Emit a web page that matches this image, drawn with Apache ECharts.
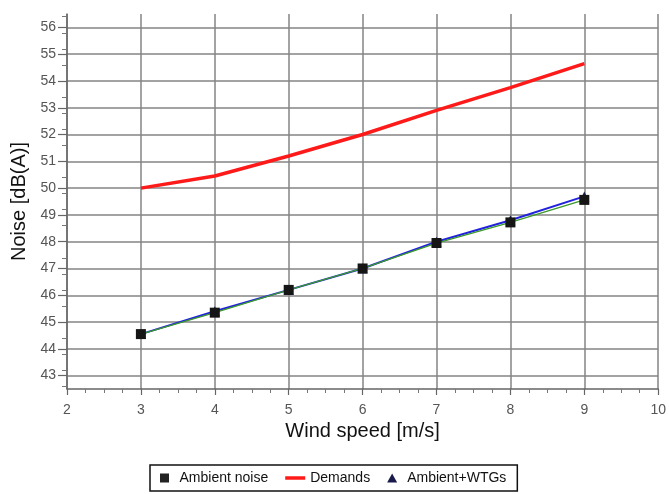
<!DOCTYPE html>
<html>
<head>
<meta charset="utf-8">
<script src="https://cdn.jsdelivr.net/npm/echarts@6/dist/echarts.min.js"></script>
<style>
html,body{margin:0;padding:0;background:#fff;}
#c{width:669px;height:494px;}
</style>
</head>
<body>
<div id="c"></div>
<script>
var windSpeed = [3, 4, 5, 6, 7, 8, 9];
var ambientNoise = [44.55, 45.35, 46.2, 47.0, 47.95, 48.72, 49.56];
var demands = [50.0, 50.45, 51.2, 52.0, 52.9, 53.75, 54.65];
var ambientWTGs = [44.55, 45.4, 46.2, 47.0, 48.0, 48.8, 49.69];
var yTicks = [43, 44, 45, 46, 47, 48, 49, 50, 51, 52, 53, 54, 55, 56];
var xTicks = [2, 3, 4, 5, 6, 7, 8, 9, 10];

function pairs(xs, ys) { return xs.map(function (x, i) { return [x, ys[i]]; }); }

var FONT = '"Liberation Sans", Arial, sans-serif';
var chart = echarts.init(document.getElementById('c'), null, {renderer: 'canvas'});
chart.setOption({
  animation: false,
  backgroundColor: '#fff',
  textStyle: {fontFamily: FONT},
  grid: {left: 67, right: 6, top: 14, bottom: 105},
  xAxis: {
    type: 'value', min: xTicks[0], max: xTicks[xTicks.length - 1], interval: 1,
    name: 'Wind speed [m/s]', nameLocation: 'middle', nameGap: 32,
    nameTextStyle: {fontSize: 20, color: '#111', fontFamily: FONT},
    axisLine: {show: true, lineStyle: {color: '#666', width: 1.5}},
    axisTick: {show: true, length: 6, lineStyle: {color: '#666', width: 1.2}},
    minorTick: {show: true, splitNumber: 4, length: 4, lineStyle: {color: '#777', width: 1}},
    axisLabel: {fontSize: 14, color: '#555', margin: 14, fontFamily: FONT},
    splitLine: {show: true, lineStyle: {color: '#858585', width: 1.5}}
  },
  yAxis: {
    type: 'value', min: 42.5, max: 56.5,
    name: 'Noise [dB(A)]', nameLocation: 'middle', nameGap: 38,
    nameTextStyle: {fontSize: 20, color: '#111', fontFamily: FONT},
    axisLine: {show: true, lineStyle: {color: '#666', width: 1.5}},
    axisTick: {show: true, length: 9, customValues: yTicks, lineStyle: {color: '#666', width: 1.2}},
    minorTick: {show: true, splitNumber: 5, length: 5, lineStyle: {color: '#777', width: 1}},
    axisLabel: {fontSize: 14, color: '#555', margin: 11, customValues: yTicks, fontFamily: FONT},
    splitLine: {show: true, lineStyle: {color: '#858585', width: 1.5}}
  },
  legend: {
    left: 150, top: 465, padding: [6, 11, 6, 10],
    borderColor: '#111', borderWidth: 1.5, borderRadius: 0,
    itemGap: 17, itemWidth: 20, itemHeight: 9,
    textStyle: {fontSize: 14, color: '#111', fontFamily: FONT},
    data: [
      {name: 'Ambient noise', icon: 'path://M0,0h10v10h-10z', itemStyle: {color: '#222'}},
      {name: 'Demands', icon: 'path://M0,0h20v3.5h-20z', itemStyle: {color: '#ff1a1a'}},
      {name: 'Ambient+WTGs', icon: 'path://M5,0L10,9L0,9Z', itemStyle: {color: '#1a1a4a'}}
    ]
  },
  series: [
    {
      name: 'Demands', type: 'line', data: pairs(windSpeed, demands),
      symbol: 'none', lineStyle: {color: '#ff1a1a', width: 3.5}, itemStyle: {color: '#ff1a1a'}, z: 2
    },
    {
      name: 'Ambient+WTGs', type: 'line', data: pairs(windSpeed, ambientWTGs),
      symbol: 'triangle', symbolSize: 10, lineStyle: {color: '#2222dd', width: 2}, itemStyle: {color: '#1a1a4a'}, z: 3
    },
    {
      name: 'Ambient noise', type: 'line', data: pairs(windSpeed, ambientNoise),
      symbol: 'rect', symbolSize: 10, lineStyle: {color: '#3a9a2a', width: 1.3}, itemStyle: {color: '#151515'}, z: 4
    }
  ]
});
</script>
</body>
</html>
